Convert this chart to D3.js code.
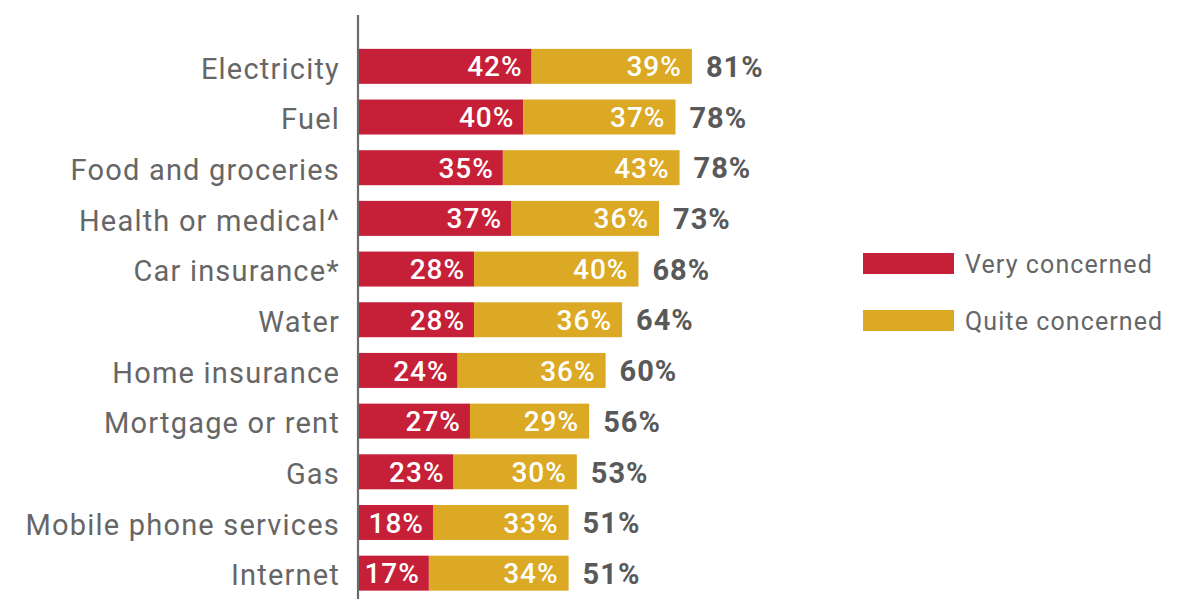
<!DOCTYPE html>
<html><head><meta charset="utf-8">
<script src="https://cdn.jsdelivr.net/npm/d3@7"></script>
<style>body{margin:0;background:#fff;}svg{display:block;}</style>
</head><body>
<svg id="chart" width="1192" height="599"></svg>
<script>
const categories = ["Electricity","Fuel","Food and groceries","Health or medical^","Car insurance*","Water","Home insurance","Mortgage or rent","Gas","Mobile phone services","Internet"];
const veryConcerned  = [42,40,35,37,28,28,24,27,23,18,17];
const quiteConcerned = [39,37,43,36,40,36,36,29,30,33,34];
const totals         = [81,78,78,73,68,64,60,56,53,51,51];
const seriesNames = ["Very concerned","Quite concerned"];
const colors = ["#C61F38","#DBA924"];

const svg = d3.select("#chart");
const x = d3.scaleLinear().domain([0,100]).range([359,770]);
const y = d3.scaleBand().domain(categories).range([42.5,600]).paddingInner(0.31).paddingOuter(0.155);

// axis line
svg.append("line").attr("x1",358).attr("x2",358).attr("y1",15).attr("y2",599)
  .attr("stroke","#6b6b6b").attr("stroke-width",2.2);

// category labels via axis
const yAxis = d3.axisLeft(y).tickSize(0).tickPadding(18);
const ag = svg.append("g").attr("transform","translate(358,0)").call(yAxis);
ag.select(".domain").remove();
ag.selectAll("text").attr("font-family","Roboto, sans-serif").attr("font-size",29)
  .attr("fill","#666").attr("letter-spacing",1.2).attr("dy","0.37em");

const bh = y.bandwidth();
const rows = svg.append("g").selectAll("g").data(categories).join("g");

rows.append("rect").attr("x",x(0)).attr("y",(d)=>y(d)-1.5)
  .attr("width",(d,i)=>x(veryConcerned[i])-x(0)).attr("height",bh).attr("fill",colors[0]);
rows.append("rect").attr("x",(d,i)=>x(veryConcerned[i])).attr("y",(d)=>y(d)-1.5)
  .attr("width",(d,i)=>x(veryConcerned[i]+quiteConcerned[i])-x(veryConcerned[i])).attr("height",bh).attr("fill",colors[1]);

const tf = sel => sel.attr("font-family","Roboto, sans-serif").attr("font-size",28).attr("letter-spacing",1);
rows.append("text").call(tf).attr("fill","#fff").attr("font-weight",500).attr("text-anchor","end")
  .attr("x",(d,i)=>x(veryConcerned[i])-9).attr("y",(d)=>y(d)-1.5+bh/2).attr("dy","0.36em")
  .text((d,i)=>veryConcerned[i]+"%");
rows.append("text").call(tf).attr("fill","#fff").attr("font-weight",500).attr("text-anchor","end")
  .attr("x",(d,i)=>x(veryConcerned[i]+quiteConcerned[i])-10).attr("y",(d)=>y(d)-1.5+bh/2).attr("dy","0.36em")
  .text((d,i)=>quiteConcerned[i]+"%");
rows.append("text").call(tf).attr("font-size",29).attr("fill","#595959").attr("font-weight","bold")
  .attr("x",(d,i)=>x(veryConcerned[i]+quiteConcerned[i])+14).attr("y",(d)=>y(d)-1.5+bh/2).attr("dy","0.37em")
  .text((d,i)=>totals[i]+"%");

// legend
const lg = svg.append("g").selectAll("g").data(seriesNames).join("g")
  .attr("transform",(d,i)=>`translate(863,${253+i*57})`);
lg.append("rect").attr("width",91).attr("height",21).attr("fill",(d,i)=>colors[i]);
lg.append("text").attr("x",102).attr("y",10.5).attr("dy","0.36em")
  .attr("font-family","Roboto, sans-serif").attr("font-size",25).attr("letter-spacing",1.1)
  .attr("fill","#666").text(d=>d);
</script>
</body></html>
